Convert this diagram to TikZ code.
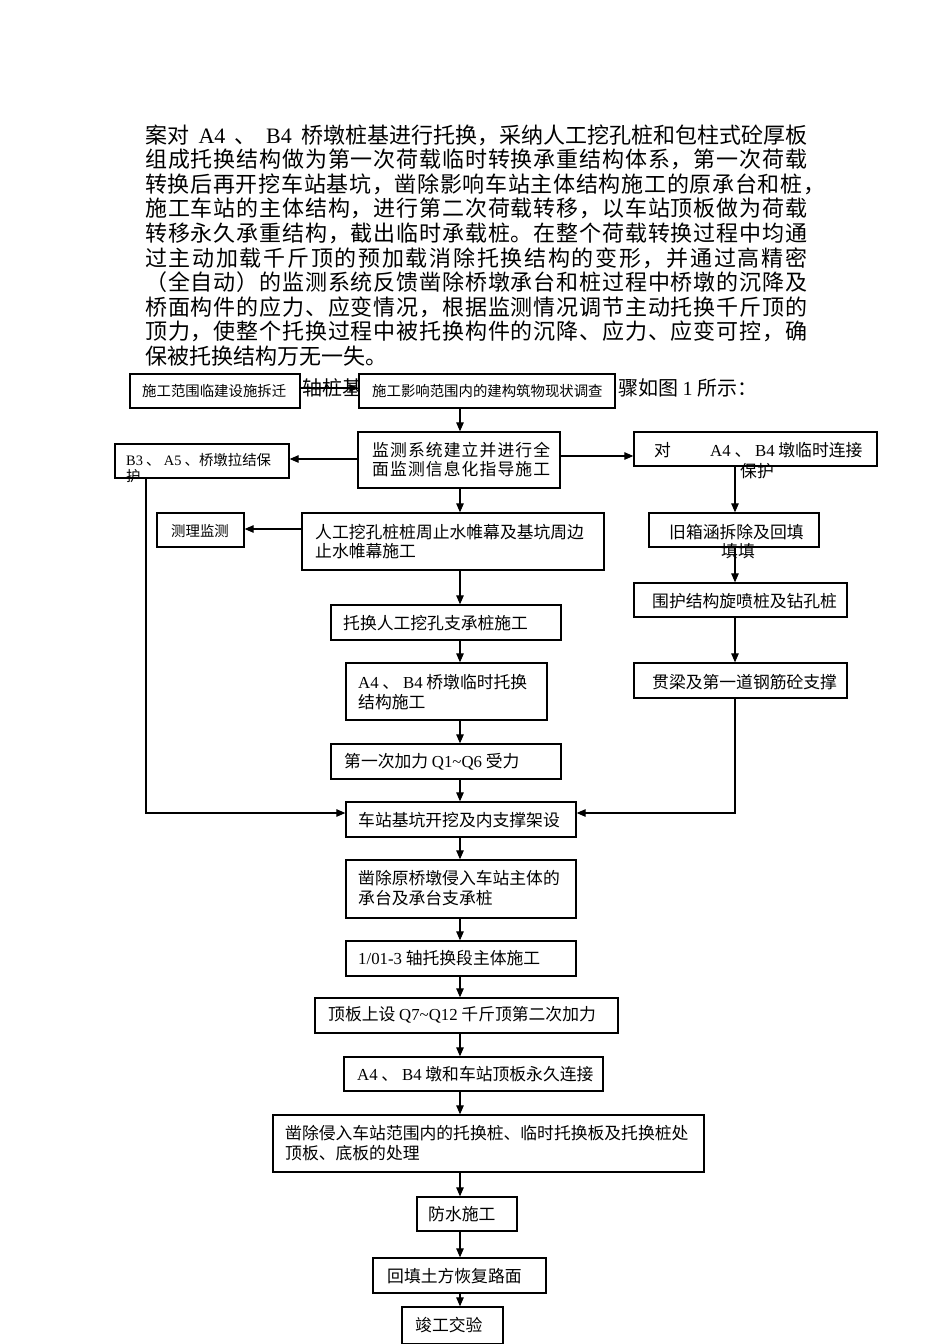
\documentclass[tikz,border=0pt]{standalone}
\usepackage{fontspec}
\setmainfont{Noto Sans CJK SC}
\newfontfamily\lat{Liberation Serif}
\usetikzlibrary{arrows.meta,fit}
\def\spreadit#1{\spreadA#1\relax}
\def\spreadA#1{#1\spreadB}
\def\spreadB#1{\ifx\relax#1\else\hskip0pt plus1fil #1\expandafter\spreadB\fi}
\newcommand\jline[1]{\hbox to 662pt{#1}}
\newcommand\sline[1]{\hbox to 662pt{\spreadit{#1}}}
\tikzset{
  box/.style={draw, line width=1.3pt, fill=white, inner sep=0pt},
  para/.style={inner sep=0pt, anchor=west, font=\fontsize{22}{25}\selectfont},
  frag/.style={inner sep=0pt, anchor=west, font=\fontsize{20}{24}\selectfont},
  txt/.style={inner sep=0pt, anchor=west, font=\fontsize{16.8}{20}\selectfont},
  stxt/.style={inner sep=0pt, anchor=west, font=\fontsize{14.4}{17}\selectfont},
  arr/.style={line width=1.1pt, -{Triangle[length=9pt,width=7.5pt]}},
  ln/.style={line width=1.1pt}
}
\begin{document}
\begin{tikzpicture}[x=1pt,y=-1pt]
\useasboundingbox (0,0) rectangle (950,1344);
% paragraph
\node[para] (p1) at (145,135.0) {\jline{案对 {\lat A4} 、 {\lat B4} 桥墩桩基进行托换，采纳人工挖孔桩和包柱式砼厚板}};
\node[para] (p2) at (145,159.6) {\sline{组成托换结构做为第一次荷载临时转换承重结构体系，第一次荷载}};
\node[para] (p3) at (145,184.2) {\hbox to 680pt{\spreadit{转换后再开挖车站基坑，凿除影响车站主体结构施工的原承台和桩，}}};
\node[para] (p4) at (145,208.8) {\sline{施工车站的主体结构，进行第二次荷载转移，以车站顶板做为荷载}};
\node[para] (p5) at (145,233.4) {\sline{转移永久承重结构，截出临时承载桩。在整个荷载转换过程中均通}};
\node[para] (p6) at (145,258.0) {\sline{过主动加载千斤顶的预加载消除托换结构的变形，并通过高精密}};
\node[para] (p7) at (145,282.6) {\sline{（全自动）的监测系统反馈凿除桥墩承台和桩过程中桥墩的沉降及}};
\node[para] (p8) at (145,307.2) {\sline{桥面构件的应力、应变情况，根据监测情况调节主动托换千斤顶的}};
\node[para] (p9) at (145,331.8) {\sline{顶力，使整个托换过程中被托换构件的沉降、应力、应变可控，确}};
\node[para] (p10) at (145,356.4) {保被托换结构万无一失。};
\node[frag] (f1) at (302,388) {轴桩基};
\node[frag] (f2) at (618,388) {骤如图 {\lat 1} 所示：};

% boxes
\node[box, fit={(130,374) (300,408)}] (b1) {};
\node[box, fit={(359,374) (615,408)}] (b2) {};
\node[box, fit={(358,432) (560,488)}] (b3) {};
\node[box, fit={(115,444) (289,478)}] (b4) {};
\node[box, fit={(634,432) (877,466)}] (b5) {};
\node[box, fit={(302,513) (604,570)}] (b6) {};
\node[box, fit={(157,513) (244,547)}] (b7) {};
\node[box, fit={(649,513) (819,547)}] (b8) {};
\node[box, fit={(634,583) (847,617)}] (b9) {};
\node[box, fit={(331,605) (561,640)}] (b12) {};
\node[box, fit={(346,663) (547,720)}] (b13) {};
\node[box, fit={(634,663) (847,698)}] (b10) {};
\node[box, fit={(331,744) (561,779)}] (b14) {};
\node[box, fit={(346,802) (576,837)}] (b11) {};
\node[box, fit={(346,860) (576,918)}] (b15) {};
\node[box, fit={(346,941) (576,976)}] (b16) {};
\node[box, fit={(315,998) (618,1033)}] (b17) {};
\node[box, fit={(344,1057) (603,1091)}] (b18) {};
\node[box, fit={(273,1115) (704,1172)}] (b19) {};
\node[box, fit={(417,1197) (517,1231)}] (b20) {};
\node[box, fit={(373,1258) (546,1293)}] (b21) {};
\node[box, fit={(402,1307) (503,1343.4)}] (b22) {};

% box texts
\node[stxt] (t1) at (142,391) {施工范围临建设施拆迁};
\node[stxt] (t2) at (372,391) {施工影响范围内的建构筑物现状调查};
\node[txt] (t3a) at (372,450) {\hbox to 178pt{\spreadit{监测系统建立并进行全}}};
\node[txt] (t3b) at (372,469) {\hbox to 178pt{\spreadit{面监测信息化指导施工}}};
\node[stxt] (t4a) at (126,460) {{\lat B3} 、 {\lat A5} 、桥墩拉结保};
\node[stxt] (t4b) at (126,476) {护};
\node[txt] (t5a) at (654,450) {对};
\node[txt] (t5b) at (710,450) {{\lat A4} 、 {\lat B4} 墩临时连接};
\node[txt] (t5c) at (740,471) {保护};
\node[txt] (t6a) at (315,532) {人工挖孔桩桩周止水帷幕及基坑周边};
\node[txt] (t6b) at (315,551) {止水帷幕施工};
\node[stxt] (t7) at (171,531) {测理监测};
\node[txt] (t8a) at (669,532) {旧箱涵拆除及回填};
\node[txt] (t8b) at (721,551) {填填};
\node[txt] (t9) at (652,601) {围护结构旋喷桩及钻孔桩};
\node[txt] (t12) at (343,623) {托换人工挖孔支承桩施工};
\node[txt] (t13a) at (358,682) {{\lat A4} 、 {\lat B4} 桥墩临时托换};
\node[txt] (t13b) at (358,702) {结构施工};
\node[txt] (t10) at (652,682) {贯梁及第一道钢筋砼支撑};
\node[txt] (t14) at (344,762) {第一次加力 {\lat Q1\char`\~Q6} 受力};
\node[txt] (t11) at (358,820) {车站基坑开挖及内支撑架设};
\node[txt] (t15a) at (358,878) {凿除原桥墩侵入车站主体的};
\node[txt] (t15b) at (358,898) {承台及承台支承桩};
\node[txt] (t16) at (358,958) {{\lat 1/01-3} 轴托换段主体施工};
\node[txt] (t17) at (328,1015) {顶板上设 {\lat Q7\char`\~Q12} 千斤顶第二次加力};
\node[txt] (t18) at (357,1074) {{\lat A4} 、 {\lat B4} 墩和车站顶板永久连接};
\node[txt] (t19a) at (285,1133) {凿除侵入车站范围内的托换桩、临时托换板及托换桩处};
\node[txt] (t19b) at (285,1153) {顶板、底板的处理};
\node[txt] (t20) at (428,1214) {防水施工};
\node[txt] (t21) at (387,1276) {回填土方恢复路面};
\node[txt] (t22) at (415,1325) {竣工交验};

% helper coordinates
\coordinate (cC) at (460,0);
\coordinate (cR) at (735,0);
\coordinate (cL) at (146,0);
\coordinate (yTop) at (0,388);
\coordinate (yL) at (0,459);
\coordinate (yR) at (0,456);
\coordinate (yM) at (0,529);
\coordinate (yB) at (0,813);

% connectors
\draw[arr] (b1.east |- yTop) -- (b2.west |- yTop);
\draw[arr] (b2.south -| cC) -- (b3.north -| cC);
\draw[arr] (b3.west |- yL) -- (b4.east |- yL);
\draw[arr] (b3.east |- yR) -- (b5.west |- yR);
\draw[arr] (b3.south -| cC) -- (b6.north -| cC);
\draw[arr] (b6.west |- yM) -- (b7.east |- yM);
\draw[arr] (b6.south -| cC) -- (b12.north -| cC);
\draw[arr] (b12.south -| cC) -- (b13.north -| cC);
\draw[arr] (b13.south -| cC) -- (b14.north -| cC);
\draw[arr] (b14.south -| cC) -- (b11.north -| cC);
\draw[arr] (b5.south -| cR) -- (b8.north -| cR);
\draw[arr] (b8.south -| cR) -- (b9.north -| cR);
\draw[arr] (b9.south -| cR) -- (b10.north -| cR);
\draw[arr] (b4.south -| cL) |- (b11.west |- yB);
\draw[arr] (b10.south -| cR) |- (b11.east |- yB);
\draw[arr] (b11.south -| cC) -- (b15.north -| cC);
\draw[arr] (b15.south -| cC) -- (b16.north -| cC);
\draw[arr] (b16.south -| cC) -- (b17.north -| cC);
\draw[arr] (b17.south -| cC) -- (b18.north -| cC);
\draw[arr] (b18.south -| cC) -- (b19.north -| cC);
\draw[arr] (b19.south -| cC) -- (b20.north -| cC);
\draw[arr] (b20.south -| cC) -- (b21.north -| cC);
\draw[arr] (b21.south -| cC) -- (b22.north -| cC);
\end{tikzpicture}
\end{document}
